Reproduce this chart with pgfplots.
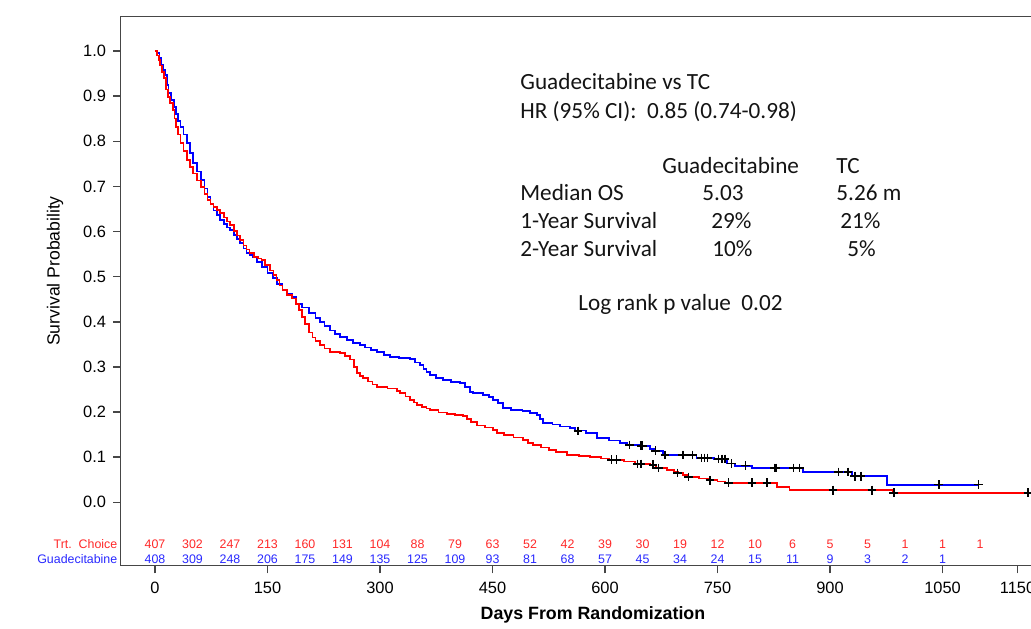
\documentclass[border=0pt]{standalone}
\usepackage{pgfplots}
\pgfplotsset{compat=1.18}
\usepackage{fontspec}
\setmainfont{Liberation Sans}
\newfontfamily\calibri{Carlito}
\definecolor{kmred}{RGB}{255,0,0}
\definecolor{kmblue}{RGB}{0,0,255}
\definecolor{riskred}{RGB}{255,40,40}
\definecolor{riskblue}{RGB}{40,40,255}
\definecolor{axframe}{RGB}{70,70,70}
\definecolor{anno}{RGB}{20,20,20}

\pgfplotstableread{
x y
0 1.000
3 0.990
5 0.980
7 0.968
9 0.953
12 0.940
15 0.915
17 0.898
20 0.885
24 0.869
26 0.850
28 0.832
31 0.815
34 0.796
38 0.778
43 0.758
47 0.743
51 0.729
56 0.713
61 0.698
66 0.683
70 0.670
74 0.661
78 0.654
83 0.648
87 0.641
92 0.631
96 0.622
100 0.614
105 0.601
109 0.591
113 0.581
118 0.569
122 0.560
126 0.552
132 0.543
137 0.540
142 0.537
147 0.526
153 0.514
158 0.503
162 0.492
166 0.480
170 0.470
176 0.460
183 0.452
188 0.440
192 0.426
196 0.410
200 0.395
205 0.376
210 0.365
214 0.358
220 0.349
226 0.341
233 0.333
247 0.331
253 0.324
260 0.316
265 0.300
269 0.287
273 0.280
277 0.276
284 0.268
290 0.261
296 0.256
310 0.252
323 0.247
327 0.242
334 0.234
340 0.227
345 0.221
349 0.216
356 0.211
362 0.208
367 0.205
378 0.199
389 0.195
400 0.193
411 0.191
416 0.185
421 0.178
429 0.170
440 0.166
451 0.160
456 0.153
465 0.149
478 0.144
491 0.138
497 0.132
504 0.127
515 0.121
525 0.116
535 0.112
549 0.105
565 0.102
580 0.100
595 0.097
605 0.094
625 0.090
640 0.085
660 0.083
668 0.076
683 0.072
692 0.068
697 0.065
704 0.060
711 0.056
725 0.053
738 0.049
750 0.046
760 0.043
829 0.034
846 0.027
983 0.021
1164 0.021
}\redtable

\pgfplotstableread{
x y
0 1.000
3 0.995
6 0.985
8 0.969
11 0.958
14 0.947
16 0.925
18 0.907
21 0.892
25 0.876
28 0.860
31 0.845
34 0.832
38 0.815
43 0.796
47 0.774
51 0.752
56 0.733
61 0.714
66 0.695
70 0.676
74 0.661
78 0.647
83 0.636
87 0.625
92 0.616
96 0.609
100 0.603
105 0.592
109 0.583
113 0.574
118 0.562
122 0.553
126 0.548
130 0.543
136 0.533
143 0.521
150 0.508
157 0.497
163 0.484
170 0.470
176 0.462
183 0.455
188 0.440
196 0.432
205 0.420
214 0.409
220 0.399
226 0.390
233 0.381
240 0.373
247 0.366
256 0.359
264 0.353
273 0.349
280 0.343
288 0.337
296 0.333
305 0.327
313 0.322
325 0.320
340 0.317
347 0.310
353 0.304
358 0.296
362 0.289
367 0.282
375 0.276
384 0.271
395 0.267
407 0.264
413 0.256
420 0.245
424 0.242
437 0.238
445 0.233
451 0.227
457 0.220
464 0.209
475 0.205
490 0.202
500 0.198
509 0.194
513 0.185
517 0.176
530 0.172
540 0.168
553 0.165
560 0.159
575 0.154
589 0.142
605 0.137
620 0.131
630 0.127
645 0.125
660 0.118
667 0.114
677 0.105
722 0.098
745 0.096
763 0.086
773 0.081
796 0.076
864 0.067
929 0.058
976 0.039
1098 0.039
}\bluetable

\pgfplotstableread{
x y
609 0.094
615 0.094
643 0.085
648 0.085
664 0.083
671 0.076
697 0.065
711 0.056
740 0.049
765 0.043
796 0.043
816 0.043
904 0.027
956 0.027
985 0.021
1164 0.021
}\redcens

\pgfplotstableread{
x y
564 0.158
633 0.127
648 0.125
650 0.125
667 0.114
680 0.105
703 0.105
705 0.105
717 0.105
729 0.098
733 0.098
737 0.098
751 0.096
756 0.096
760 0.096
769 0.086
787 0.081
826 0.076
828 0.076
851 0.076
859 0.076
911 0.067
924 0.067
933 0.058
941 0.058
1045 0.039
1098 0.039
}\bluecens

\pgfplotstableread{
x y n
0 -0.0935 407
50 -0.0935 302
100 -0.0935 247
150 -0.0935 213
200 -0.0935 160
250 -0.0935 131
300 -0.0935 104
350 -0.0935 88
400 -0.0935 79
450 -0.0935 63
500 -0.0935 52
550 -0.0935 42
600 -0.0935 39
650 -0.0935 30
700 -0.0935 19
750 -0.0935 12
800 -0.0935 10
850 -0.0935 6
900 -0.0935 5
950 -0.0935 5
1000 -0.0935 1
1050 -0.0935 1
1100 -0.0935 1
}\redrisk

\pgfplotstableread{
x y n
0 -0.1256 408
50 -0.1256 309
100 -0.1256 248
150 -0.1256 206
200 -0.1256 175
250 -0.1256 149
300 -0.1256 135
350 -0.1256 125
400 -0.1256 109
450 -0.1256 93
500 -0.1256 81
550 -0.1256 68
600 -0.1256 57
650 -0.1256 45
700 -0.1256 34
750 -0.1256 24
800 -0.1256 15
850 -0.1256 11
900 -0.1256 9
950 -0.1256 3
1000 -0.1256 2
1050 -0.1256 1
}\bluerisk

\begin{document}
\begin{tikzpicture}
\useasboundingbox (-60.35pt,-31.15pt) rectangle (455.15pt,282.85pt);
\clip (-60.35pt,-31.15pt) rectangle (455.15pt,282.85pt);
\begin{axis}[
  scale only axis, width=457.8pt, height=274.5pt,
  xmin=-45.7, xmax=1175, ymin=-0.1405, ymax=1.076,
  clip=false,
  axis line style={draw=axframe, line width=0.75pt},
  xtick={0,150,300,450,600,750,900,1050,1150},
  ytick={0,0.1,0.2,0.3,0.4,0.5,0.6,0.7,0.8,0.9,1.0},
  tick align=outside, xtick pos=bottom, ytick pos=left,
  major tick length=3.8pt,
  tick style={draw=axframe, line width=0.75pt},
  /pgf/number format/assume math mode=true,
  ticklabel style={font=\fontsize{8.2}{9}\selectfont, text=black},
  yticklabel style={/pgf/number format/.cd, fixed, fixed zerofill, precision=1},
  xticklabel style={/pgf/number format/1000 sep={}, yshift=-1pt},
  xlabel={Days From Randomization},
  xlabel style={font=\bfseries\fontsize{8.9}{10}\selectfont, at={(axis description cs:0.5158,0)}, anchor=center, yshift=-24.65pt},
  ylabel={Survival Probability},
  ylabel style={font=\fontsize{8.8}{10}\selectfont, at={(axis description cs:-0.0718,0.5368)}, anchor=center},
]
\addplot[const plot, kmblue, line width=0.8pt] table {\bluetable};
\addplot[const plot, kmred, line width=0.8pt] table {\redtable};
\addplot[only marks, mark=+, mark size=2.2pt, black, mark options={line width=0.7pt}] table {\bluecens};
\addplot[only marks, mark=+, mark size=2.2pt, black, mark options={line width=0.7pt}] table {\redcens};
\addplot[draw=none, mark=none, nodes near coords, point meta=explicit symbolic,
  every node near coord/.append style={font=\fontsize{6.2}{7}\selectfont, text=riskred, anchor=center}] table[meta=n] {\redrisk};
\addplot[draw=none, mark=none, nodes near coords, point meta=explicit symbolic,
  every node near coord/.append style={font=\fontsize{6.2}{7}\selectfont, text=riskblue, anchor=center}] table[meta=n] {\bluerisk};
\node[anchor=east, font=\fontsize{6.2}{7}\selectfont, text=riskred, inner sep=1.5pt] at (axis cs:-45.7,-0.0935) {Trt.\ \ Choice};
\node[anchor=east, font=\fontsize{6.2}{7}\selectfont, text=riskblue, inner sep=1.5pt] at (axis cs:-45.7,-0.1256) {Guadecitabine};
\end{axis}
\begin{scope}[every node/.style={anchor=base west, inner sep=0pt, text=anno, font=\calibri\fontsize{11.6}{13}\selectfont}]
\node at (199.65pt,238.1pt) {Guadecitabine vs TC};
\node at (199.65pt,223.6pt) {HR (95\% CI):\ \ 0.85 (0.74-0.98)};
\node at (270.65pt,196.1pt) {Guadecitabine};
\node at (357.65pt,196.1pt) {TC};
\node at (199.65pt,182.6pt) {Median OS};
\node at (290.65pt,182.6pt) {5.03};
\node at (357.65pt,182.6pt) {5.26 m};
\node at (199.65pt,168.6pt) {1-Year Survival};
\node at (295.15pt,168.6pt) {29\%};
\node at (359.65pt,168.6pt) {21\%};
\node at (199.65pt,154.6pt) {2-Year Survival};
\node at (295.65pt,154.6pt) {10\%};
\node at (363.15pt,154.6pt) {5\%};
\node at (228.65pt,127.6pt) {Log rank p value\ \ 0.02};
\end{scope}
\end{tikzpicture}
\end{document}
